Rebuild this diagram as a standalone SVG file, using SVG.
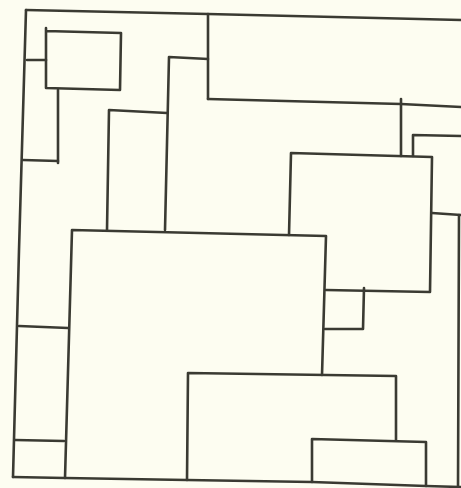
<svg xmlns="http://www.w3.org/2000/svg" width="461" height="488" viewBox="0 0 461 488">
<style>
.l{fill:none;stroke:#3a3a32;stroke-width:2.6;stroke-linecap:round;stroke-linejoin:round}
</style>
<rect width="461" height="488" fill="#fdfdf1"/>
<g id="plan" class="l">
<path d="M26,10 L208,14 L461,20"/>
<path d="M26,10 L19,250 L13,477"/>
<path d="M13,477 L65,478 L187,480 L312,482 L426,486 L461,487"/>
<path d="M208,14 L208,99"/>
<path d="M208,99 L401,104 L461,107"/>
<path d="M401,99 L401,156"/>
<path d="M413,156 L413,135 L461,136"/>
<path d="M289,235 L291,153 L432,157 L430,292 L326,290"/>
<path d="M432,213 L461,215"/>
<path d="M459,215 L458,487"/>
<path d="M364,288 L363,329 L325,329"/>
<path d="M65,478 L72,230 L326,236 L322,375"/>
<path d="M187,480 L188,373 L396,376 L396,440"/>
<path d="M312,482 L312,439 L426,442 L426,486"/>
<path d="M19,326 L68,328"/>
<path d="M15,440 L64,441"/>
<path d="M46,28 L46,88 L120,90 L121,33 L46,31"/>
<path d="M27,60 L46,60"/>
<path d="M58,90 L58,163"/>
<path d="M23,160 L58,161"/>
<path d="M107,230 L109,110 L167,113"/>
<path d="M165,230 L169,57 L208,59"/>
</g>
</svg>
